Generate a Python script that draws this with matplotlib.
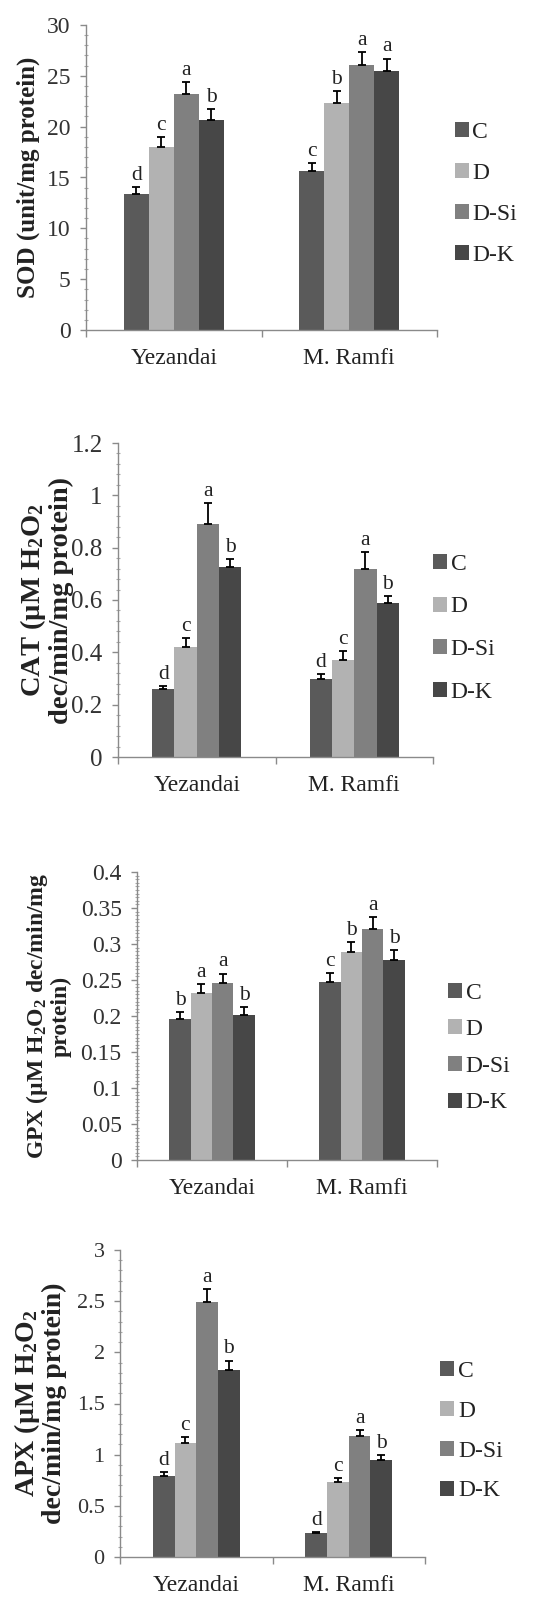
import matplotlib
matplotlib.use("Agg")
import matplotlib.pyplot as plt
import numpy as np
from matplotlib.ticker import MultipleLocator, FuncFormatter

plt.rcParams['font.family'] = ['Liberation Serif', 'DejaVu Serif']
plt.rcParams['mathtext.default'] = 'regular'

# ---------------- data ----------------
categories = ['Yezandai', 'M. Ramfi']
treatments = ['C', 'D', 'D-Si', 'D-K']
bar_colors = ['#5a5a5a', '#b2b2b2', '#808080', '#474747']

sod_mean = [[13.4, 15.6], [18.0, 22.3], [23.2, 26.1], [20.7, 25.5]]
sod_err = [[0.7, 0.8], [1.0, 1.2], [1.2, 1.2], [1.0, 1.2]]
sod_letters = [['d', 'c'], ['c', 'b'], ['a', 'a'], ['b', 'a']]

cat_mean = [[0.26, 0.30], [0.42, 0.37], [0.89, 0.72], [0.725, 0.59]]
cat_err = [[0.012, 0.017], [0.036, 0.036], [0.079, 0.064], [0.031, 0.025]]
cat_letters = [['d', 'd'], ['c', 'c'], ['a', 'a'], ['b', 'b']]

gpx_mean = [[0.196, 0.247], [0.232, 0.289], [0.246, 0.321], [0.201, 0.278]]
gpx_err = [[0.010, 0.013], [0.012, 0.014], [0.013, 0.017], [0.011, 0.014]]
gpx_letters = [['b', 'c'], ['a', 'b'], ['a', 'a'], ['b', 'b']]

apx_mean = [[0.79, 0.23], [1.11, 0.73], [2.49, 1.18], [1.83, 0.95]]
apx_err = [[0.04, 0.01], [0.06, 0.04], [0.13, 0.06], [0.09, 0.05]]
apx_letters = [['d', 'd'], ['c', 'c'], ['a', 'a'], ['b', 'b']]

sod_label = 'SOD (unit/mg protein)'
cat_label = 'CAT (µM H$_2$O$_2$\ndec/min/mg protein)'
gpx_label = 'GPX (µM H$_2$O$_2$ dec/min/mg\nprotein)'
apx_label = 'APX (µM H$_2$O$_2$\ndec/min/mg protein)'

# ---------------- layout ----------------
W, H = 543, 1598
fig = plt.figure(figsize=(W / 100, H / 100), dpi=100)
fig.patch.set_facecolor('white')


def add_ax(l, r, t, b):
    return fig.add_axes([l / W, 1 - b / H, (r - l) / W, (b - t) / H])


panels = [
    dict(box=(86, 437, 25, 330), mean=sod_mean, err=sod_err, letters=sod_letters,
         ymax=30, major=5, minor=1, label=sod_label, lab_x=-0.131, lab_fs=18, lab_ls=1.05,
         tick_fs=17, leg=(1.05, 0.446), legsp=0.85),
    dict(box=(118, 433, 443, 757), mean=cat_mean, err=cat_err, letters=cat_letters,
         ymax=1.2, major=0.2, minor=0.04, label=cat_label, lab_x=-0.14, lab_fs=20.5, lab_ls=1.05,
         tick_fs=18, leg=(1.0, 0.41), legsp=0.92),
    dict(box=(137, 437, 872, 1160), mean=gpx_mean, err=gpx_err, letters=gpx_letters,
         ymax=0.4, major=0.05, minor=0.005, label=gpx_label, lab_x=-0.217, lab_fs=17, lab_ls=1.05,
         tick_fs=17, leg=(1.037, 0.389), legsp=0.66),
    dict(box=(120, 425, 1250, 1557), mean=apx_mean, err=apx_err, letters=apx_letters,
         ymax=3, major=0.5, minor=0.1, label=apx_label, lab_x=-0.175, lab_fs=20, lab_ls=0.97,
         tick_fs=16, leg=(1.05, 0.41), legsp=0.8),
]

bw = 0.142
x = np.arange(len(categories))
offsets = (np.arange(len(treatments)) - 1.5) * bw
axis_gray = '#8a8a8a'

for p in panels:
    ax = add_ax(*p['box'])
    for i, t in enumerate(treatments):
        xs = x + offsets[i]
        m = np.array(p['mean'][i])
        e = np.array(p['err'][i])
        ax.bar(xs, m, width=bw, color=bar_colors[i], label=t, zorder=2)
        ax.errorbar(xs, m, yerr=[np.zeros_like(e), e], fmt='none', ecolor='black',
                    elinewidth=1.3, capsize=3.2, capthick=1.3, zorder=3)
        for j in range(len(categories)):
            ax.annotate(p['letters'][i][j], (xs[j], m[j] + e[j]), xytext=(0, 1.5),
                        textcoords='offset points', ha='center', va='bottom',
                        fontsize=15.5, color='#222222')
    ax.set_xlim(-0.5, 1.5)
    ax.set_ylim(0, p['ymax'])
    ax.yaxis.set_major_locator(MultipleLocator(p['major']))
    ax.yaxis.set_minor_locator(MultipleLocator(p['minor']))
    ax.yaxis.set_major_formatter(FuncFormatter(lambda v, pos: f'{round(v, 4):g}'))
    ax.set_xticks(x)
    ax.set_xticklabels(categories)
    ax.set_xticks([-0.5, 0.5, 1.5], minor=True)
    ax.tick_params(axis='x', which='major', length=0, pad=13, labelsize=17, labelcolor='#222222')
    ax.tick_params(axis='x', which='minor', length=5, width=1, color=axis_gray, direction='out')
    ax.tick_params(axis='y', which='major', length=4, width=1, color=axis_gray, pad=7,
                   labelsize=p['tick_fs'], labelcolor='#333333')
    ax.tick_params(axis='y', which='minor', length=3, width=0.8, color='#aaaaaa', direction='inout')
    for s in ['top', 'right']:
        ax.spines[s].set_visible(False)
    for s in ['left', 'bottom']:
        ax.spines[s].set_color(axis_gray)
        ax.spines[s].set_linewidth(1.0)
    ax.set_ylabel(p['label'], fontsize=p['lab_fs'], fontweight='bold', linespacing=p['lab_ls'],
                  color='#222222')
    ax.yaxis.set_label_coords(p['lab_x'], 0.5)
    ax.patch.set_alpha(0)
    leg = ax.legend(loc='center left', bbox_to_anchor=p['leg'], frameon=False,
                    fontsize=17, handlelength=0.6, handleheight=0.6, handletextpad=0.15,
                    labelspacing=p['legsp'], borderpad=0, borderaxespad=0)
    for txt in leg.get_texts():
        txt.set_color('#222222')

fig.savefig('out.png', dpi=100, facecolor='white')
